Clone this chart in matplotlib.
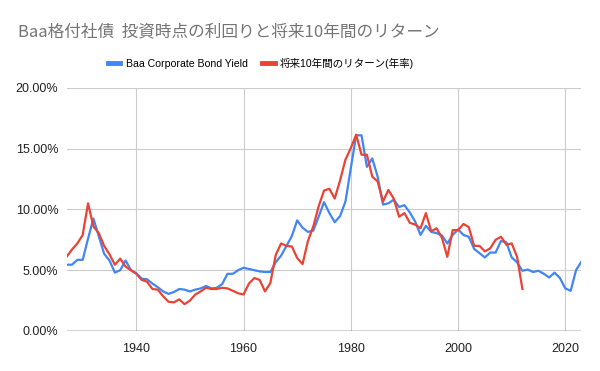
import numpy as np
import matplotlib
matplotlib.use("Agg")
import matplotlib.pyplot as plt
from matplotlib.ticker import FuncFormatter

TITLE = "Baa格付社債  投資時点の利回りと将来10年間のリターン"
YIELD_LABEL = "Baa Corporate Bond Yield"
RETURN_LABEL = "将来10年間のリターン(年率)"

yield_years = np.arange(1927, 2024)
baa_yield = [
    5.45, 5.45, 5.85, 5.85, 7.6, 9.25, 7.8, 6.35, 5.8, 4.8,      # 1927-1936
    5.0, 5.8, 5.0, 4.75, 4.3, 4.25, 3.9, 3.6, 3.25, 3.05,        # 1937-1946
    3.2, 3.45, 3.4, 3.25, 3.4, 3.5, 3.7, 3.5, 3.55, 3.85,        # 1947-1956
    4.7, 4.7, 5.0, 5.2, 5.1, 5.0, 4.9, 4.85, 4.85, 5.65,         # 1957-1966
    6.2, 7.0, 7.8, 9.1, 8.5, 8.15, 8.25, 9.4, 10.6, 9.7,         # 1967-1976
    8.95, 9.45, 10.65, 13.4, 16.1, 16.1, 13.5, 14.2, 12.7, 10.4, # 1977-1986
    10.5, 10.8, 10.2, 10.35, 9.75, 9.0, 7.9, 8.65, 8.15, 8.05,   # 1987-1996
    7.85, 7.2, 7.9, 8.35, 7.9, 7.75, 6.75, 6.4, 6.05, 6.45,      # 1997-2006
    6.45, 7.4, 7.3, 6.05, 5.65, 4.95, 5.05, 4.85, 4.95, 4.7,     # 2007-2016
    4.4, 4.8, 4.35, 3.5, 3.3, 5.0, 5.7,                          # 2017-2023
]

return_years = np.arange(1927, 2013)
fwd_return = [
    6.1, 6.7, 7.2, 7.9, 10.5, 8.6, 8.05, 7.0, 6.3, 5.45,         # 1927-1936
    5.95, 5.3, 5.0, 4.7, 4.2, 4.05, 3.45, 3.4, 2.85, 2.4,        # 1937-1946
    2.35, 2.6, 2.2, 2.5, 3.0, 3.25, 3.55, 3.45, 3.45, 3.55,      # 1947-1956
    3.5, 3.3, 3.1, 3.0, 3.9, 4.35, 4.2, 3.25, 3.95, 6.25,        # 1957-1966
    7.2, 7.0, 6.95, 6.0, 5.5, 7.4, 8.6, 10.25, 11.55, 11.7,      # 1967-1976
    10.9, 12.4, 14.1, 15.05, 16.15, 14.5, 14.5, 12.7, 12.3, 10.65,  # 1977-1986
    11.6, 10.9, 9.4, 9.7, 8.9, 8.75, 8.45, 9.7, 8.2, 8.45,       # 1987-1996
    7.65, 6.1, 8.3, 8.3, 8.8, 8.55, 7.0, 7.0, 6.55, 6.8,         # 1997-2006
    7.5, 7.75, 7.1, 7.2, 6.1, 3.45,                              # 2007-2012
]

x_ticks = [1940, 1960, 1980, 2000, 2020]
y_ticks = [0, 5, 10, 15, 20]

BLUE = "#4285F4"
RED = "#EA4335"
FONT = ["Liberation Sans", "Noto Sans CJK JP", "DejaVu Sans"]
plt.rcParams["font.family"] = FONT

fig = plt.figure(figsize=(6.0, 3.71), dpi=100)
ax = fig.add_axes([0.111, 0.108, 0.858, 0.655])

ax.plot(yield_years, baa_yield, color=BLUE, lw=1.6, label=YIELD_LABEL, zorder=3)
ax.plot(return_years, fwd_return, color=RED, lw=1.6, label=RETURN_LABEL, zorder=4)

ax.set_xlim(1927, 2023)
ax.set_ylim(0, 20)
ax.set_xticks(x_ticks)
ax.set_yticks(y_ticks)
ax.yaxis.set_major_formatter(FuncFormatter(lambda v, _: f"{v:.2f}%"))
ax.grid(True, color="#cccccc", lw=0.8, zorder=0)
ax.axhline(0, color="#333333", lw=1.0, zorder=5)
for side in ["top", "right", "left", "bottom"]:
    ax.spines[side].set_visible(False)
ax.tick_params(length=0, labelsize=9, colors="#222222", pad=6)
ax.tick_params(axis="x", pad=9)

fig.text(0.03, 0.915, TITLE, fontsize=12, color="#757575",
         family=["Noto Sans CJK JP", "DejaVu Sans"], va="center", ha="left")

fig.legend(loc="center", bbox_to_anchor=(0.435, 0.83), ncol=2, frameon=False,
           handlelength=1.2, handletextpad=0.5, columnspacing=1.4,
           prop={"family": FONT, "size": 7.6})
for line in fig.legends[0].get_lines():
    line.set_linewidth(3.5)

fig.savefig("out.png", dpi=100)
